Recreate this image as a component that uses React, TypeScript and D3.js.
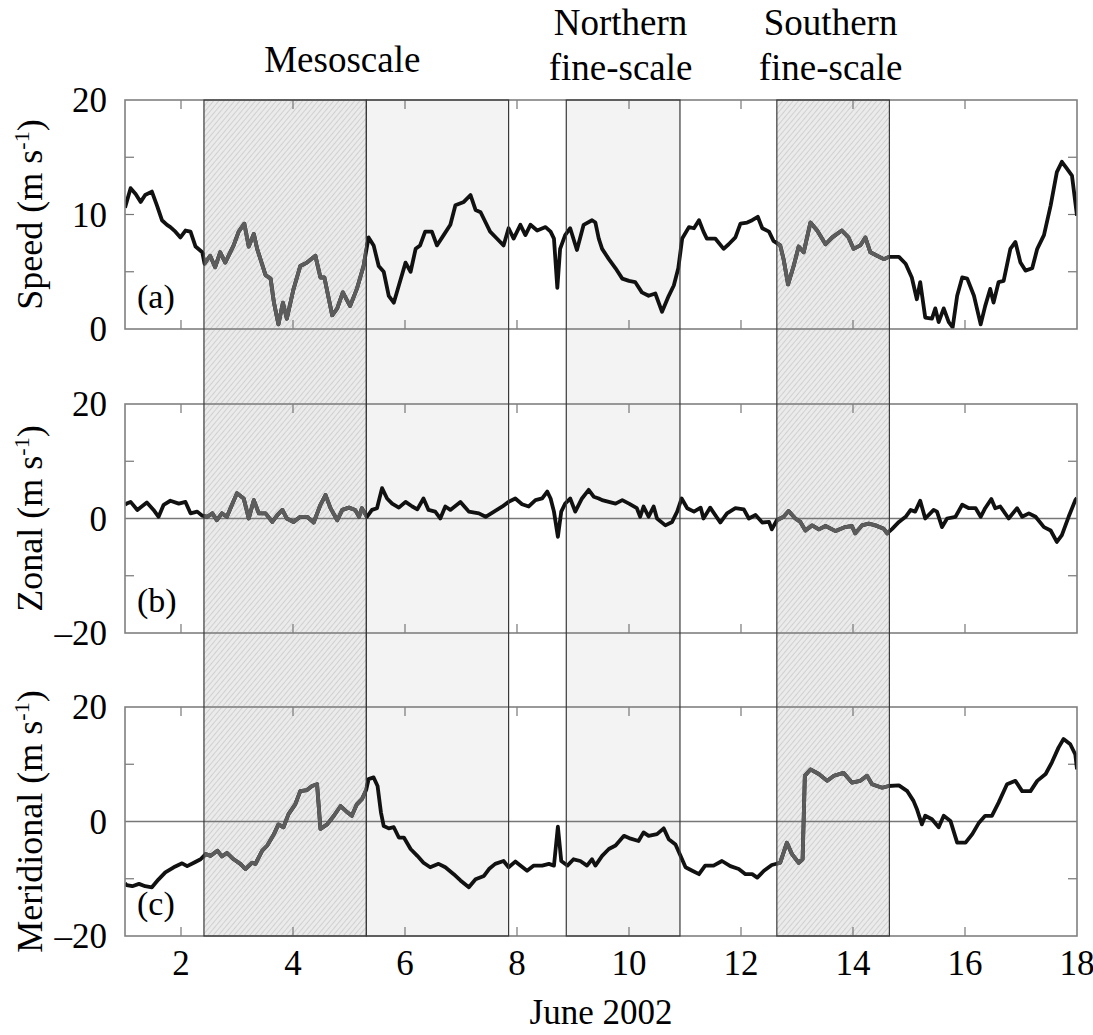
import React, { useEffect, useRef } from "react";
import * as d3 from "d3";

// wind speed and components, June 2002 (day of month, m/s)
const speedSeries: [number, number][] = [
  [1.0, 10.6], [1.03, 11.1], [1.1, 12.3], [1.19, 11.8], [1.28, 11.1], [1.36, 11.7], [1.48, 12.0], [1.57, 10.8],
  [1.66, 9.5], [1.75, 9.1], [1.81, 8.9], [1.9, 8.5], [1.99, 8.0], [2.08, 8.6], [2.17, 8.5], [2.26, 7.2],
  [2.38, 6.7], [2.42, 5.7], [2.52, 6.4], [2.61, 5.4], [2.7, 6.7], [2.79, 5.8], [2.94, 7.3], [3.03, 8.5],
  [3.13, 9.2], [3.21, 7.2], [3.3, 8.3], [3.36, 7.0], [3.51, 4.7], [3.6, 4.4], [3.66, 2.3], [3.74, 0.4],
  [3.82, 2.3], [3.89, 0.9], [4.01, 3.5], [4.13, 5.5], [4.25, 5.8], [4.4, 6.4], [4.49, 4.5], [4.56, 4.5],
  [4.7, 1.2], [4.79, 1.8], [4.89, 3.2], [5.02, 2.0], [5.14, 3.5], [5.26, 5.5], [5.35, 8.0], [5.44, 7.3],
  [5.53, 5.5], [5.62, 5.0], [5.71, 2.9], [5.8, 2.3], [5.89, 3.8], [6.01, 5.8], [6.1, 5.0], [6.19, 7.0],
  [6.27, 7.3], [6.36, 8.5], [6.48, 8.5], [6.57, 7.3], [6.69, 8.2], [6.81, 9.1], [6.9, 10.8], [7.05, 11.1],
  [7.17, 11.7], [7.26, 10.4], [7.35, 10.2], [7.44, 9.3], [7.52, 8.5], [7.64, 7.9], [7.76, 7.3], [7.85, 8.8],
  [7.94, 7.9], [8.06, 9.1], [8.15, 8.2], [8.24, 9.1], [8.36, 8.6], [8.51, 8.9], [8.6, 8.5], [8.66, 7.9],
  [8.72, 3.6], [8.77, 7.0], [8.86, 8.2], [8.95, 8.8], [9.07, 6.9], [9.19, 9.1], [9.34, 9.5], [9.4, 9.3],
  [9.46, 7.9], [9.52, 7.0], [9.64, 6.1], [9.76, 5.3], [9.88, 4.4], [10.0, 4.2], [10.11, 4.1], [10.23, 3.2],
  [10.35, 2.9], [10.47, 3.1], [10.59, 1.5], [10.71, 2.9], [10.8, 3.8], [10.88, 5.3], [10.95, 7.9], [11.07, 8.9],
  [11.16, 8.8], [11.25, 9.5], [11.33, 8.5], [11.39, 7.9], [11.54, 7.9], [11.69, 7.0], [11.78, 7.4], [11.9, 8.0],
  [11.99, 9.2], [12.11, 9.3], [12.2, 9.5], [12.3, 9.8], [12.38, 8.8], [12.5, 8.5], [12.58, 7.7], [12.7, 7.3],
  [12.76, 6.1], [12.84, 3.9], [12.94, 5.5], [13.03, 7.2], [13.12, 6.7], [13.24, 9.3], [13.36, 8.6], [13.51, 7.4],
  [13.63, 8.0], [13.8, 8.6], [13.92, 8.0], [14.01, 7.0], [14.13, 7.3], [14.22, 8.0], [14.31, 6.7], [14.43, 6.4],
  [14.55, 6.1], [14.64, 6.3], [14.82, 6.3], [14.94, 5.7], [15.05, 4.5], [15.14, 2.6], [15.2, 4.1], [15.29, 1.0],
  [15.41, 0.9], [15.47, 1.8], [15.53, 0.6], [15.62, 1.8], [15.71, 0.6], [15.78, 0.15], [15.86, 2.9], [15.95, 4.5],
  [16.04, 4.4], [16.16, 2.9], [16.28, 0.4], [16.36, 2.0], [16.45, 3.5], [16.51, 2.3], [16.6, 4.1], [16.69, 4.2],
  [16.81, 7.0], [16.9, 7.6], [16.99, 5.8], [17.08, 5.1], [17.2, 5.3], [17.29, 7.0], [17.41, 8.2], [17.53, 10.8],
  [17.64, 13.7], [17.73, 14.6], [17.82, 14.0], [17.91, 13.4], [18.0, 9.9],
];

const zonalSeries: [number, number][] = [
  [1.0, 2.4], [1.03, 2.6], [1.1, 2.9], [1.22, 1.5], [1.39, 2.8], [1.51, 1.5], [1.6, 0.3], [1.69, 2.4],
  [1.81, 3.1], [1.96, 2.6], [2.08, 2.9], [2.17, 0.9], [2.29, 1.2], [2.38, 0.5], [2.47, 0.3], [2.56, 0.9],
  [2.64, -0.3], [2.73, 0.9], [2.82, 0.3], [2.91, 2.4], [3.0, 4.4], [3.12, 3.5], [3.21, 0], [3.3, 3.2],
  [3.39, 0.9], [3.51, 0.9], [3.63, -0.6], [3.72, 0.6], [3.81, 1.5], [3.89, 0], [4.01, -0.6], [4.13, 0.3],
  [4.25, 0.3], [4.37, -0.7], [4.49, 2.4], [4.58, 4.1], [4.67, 1.8], [4.79, -0.3], [4.88, 1.5], [5.0, 1.9],
  [5.11, 1.5], [5.18, 0.3], [5.23, 1.8], [5.32, 0.3], [5.41, 1.5], [5.5, 1.8], [5.59, 5.3], [5.68, 3.5],
  [5.77, 2.6], [5.89, 1.9], [6.01, 2.9], [6.13, 2.1], [6.22, 1.6], [6.33, 3.5], [6.42, 1.5], [6.54, 1.2],
  [6.63, 0], [6.72, 2.1], [6.81, 1.5], [6.99, 2.9], [7.14, 1.2], [7.32, 0.9], [7.44, 0.3], [7.59, 1.2],
  [7.74, 2.1], [7.85, 2.9], [7.97, 3.5], [8.09, 2.5], [8.21, 2.1], [8.33, 3.2], [8.45, 3.5], [8.54, 4.7],
  [8.6, 3.5], [8.66, 1.2], [8.73, -3.2], [8.79, 1.2], [8.86, 2.6], [8.95, 3.5], [9.04, 1.2], [9.16, 3.5],
  [9.28, 5.0], [9.37, 3.8], [9.46, 3.5], [9.52, 3.2], [9.64, 2.9], [9.76, 2.6], [9.88, 3.2], [10.0, 2.6],
  [10.14, 1.8], [10.2, 0.3], [10.26, 2.1], [10.35, 0.3], [10.44, 2.1], [10.5, 0], [10.65, -1.2], [10.77, -0.6],
  [10.86, 1.2], [10.94, 3.5], [11.04, 1.8], [11.16, 1.2], [11.28, 1.9], [11.33, 0], [11.45, 1.9], [11.63, -0.7],
  [11.75, 0.9], [11.9, 1.8], [12.05, 1.6], [12.14, 0], [12.26, 0.6], [12.38, -0.7], [12.5, -0.6], [12.55, -1.9],
  [12.64, -0.3], [12.76, 0.3], [12.85, 1.3], [12.97, 0], [13.06, -0.6], [13.15, -2.1], [13.27, -1.2], [13.39, -1.9],
  [13.51, -1.3], [13.69, -2.2], [13.86, -1.5], [13.98, -1.3], [14.04, -2.6], [14.16, -1.2], [14.28, -0.9], [14.4, -1.2],
  [14.55, -1.8], [14.61, -2.6], [14.7, -1.8], [14.82, -0.6], [14.94, 0.3], [15.03, 1.5], [15.11, 1.2], [15.2, 3.1],
  [15.29, 0], [15.44, 1.5], [15.5, 1.2], [15.59, -1.5], [15.68, 0], [15.83, 0.3], [15.95, 2.4], [16.07, 1.8],
  [16.19, 1.8], [16.28, 0.3], [16.36, 1.8], [16.47, 3.4], [16.54, 1.8], [16.63, 2.1], [16.78, 0], [16.93, 1.8],
  [17.02, 0.3], [17.14, 0.9], [17.26, 0.3], [17.41, -1.5], [17.53, -2.1], [17.64, -4.1], [17.73, -2.9], [17.85, 0.3],
  [17.97, 3.2], [18.0, 3.6],
];

const meridionalSeries: [number, number][] = [
  [1.0, -10.8], [1.03, -11.1], [1.13, -11.3], [1.25, -10.9], [1.36, -11.3], [1.48, -11.5], [1.6, -10.1], [1.72, -8.9],
  [1.87, -8.0], [2.02, -7.3], [2.11, -7.8], [2.23, -7.2], [2.35, -6.6], [2.44, -5.7], [2.53, -6.0], [2.65, -5.1],
  [2.73, -6.1], [2.82, -5.5], [2.94, -6.6], [3.06, -7.4], [3.15, -8.3], [3.27, -7.2], [3.33, -7.4], [3.45, -5.1],
  [3.54, -4.2], [3.66, -2.2], [3.74, -0.5], [3.83, -1.0], [3.92, 1.3], [4.04, 3.0], [4.13, 5.3], [4.25, 5.5],
  [4.34, 6.2], [4.43, 6.5], [4.49, -1.3], [4.61, -0.5], [4.73, 1.0], [4.85, 2.7], [4.97, 1.6], [5.05, 1.0],
  [5.14, 3.0], [5.23, 3.9], [5.31, 5.6], [5.35, 7.4], [5.44, 7.7], [5.51, 6.2], [5.57, 1.6], [5.62, -0.8],
  [5.71, -1.2], [5.8, -1.0], [5.89, -2.8], [5.98, -2.8], [6.1, -4.8], [6.22, -6.0], [6.33, -7.2], [6.45, -8.0],
  [6.6, -7.4], [6.72, -8.0], [6.87, -9.2], [6.99, -10.3], [7.14, -11.5], [7.26, -10.1], [7.41, -9.5], [7.5, -8.3],
  [7.61, -7.4], [7.76, -6.9], [7.85, -8.0], [7.97, -7.0], [8.06, -7.7], [8.18, -8.6], [8.3, -7.7], [8.45, -7.7],
  [8.57, -7.4], [8.66, -7.7], [8.73, -0.9], [8.79, -6.9], [8.9, -7.7], [9.01, -6.6], [9.13, -6.9], [9.25, -7.7],
  [9.34, -6.6], [9.4, -7.7], [9.52, -6.0], [9.64, -4.8], [9.76, -4.2], [9.91, -2.5], [10.03, -3.0], [10.17, -3.4],
  [10.26, -1.9], [10.35, -2.5], [10.5, -2.2], [10.62, -1.2], [10.71, -3.1], [10.83, -4.0], [10.92, -6.0], [11.01, -8.0],
  [11.13, -8.6], [11.25, -9.2], [11.36, -7.7], [11.51, -7.7], [11.66, -6.9], [11.81, -7.8], [11.96, -8.3], [12.08, -9.2],
  [12.2, -9.2], [12.29, -9.8], [12.41, -8.6], [12.55, -7.6], [12.7, -7.2], [12.82, -3.7], [12.91, -5.7], [13.03, -7.2],
  [13.1, -6.6], [13.14, 8.0], [13.24, 9.1], [13.39, 8.3], [13.54, 7.1], [13.66, 8.0], [13.83, 8.5], [13.98, 6.8],
  [14.13, 7.1], [14.25, 8.0], [14.34, 6.5], [14.52, 5.9], [14.64, 6.2], [14.82, 6.3], [14.97, 5.3], [15.08, 3.6],
  [15.14, 2.2], [15.23, -0.5], [15.29, 1.0], [15.41, 0.4], [15.53, -1.0], [15.62, 1.0], [15.74, 0.1], [15.86, -3.7],
  [16.01, -3.7], [16.13, -2.2], [16.25, -0.2], [16.36, 1.0], [16.48, 1.0], [16.6, 3.3], [16.75, 6.5], [16.9, 7.1],
  [17.02, 5.3], [17.17, 5.3], [17.29, 7.1], [17.44, 8.3], [17.55, 10.3], [17.67, 12.9], [17.76, 14.4], [17.88, 13.5],
  [17.97, 11.7], [18.0, 9.1],
];

// sampling periods (days)
const regionStart = [2.41, 5.31, 8.88, 12.64];
const regionEnd = [5.31, 7.85, 10.91, 14.65];
const regionHatched = [true, false, false, true];
const regionTitles = [["Mesoscale"], ["Northern", "fine-scale"], ["Southern", "fine-scale"]];
const regionTitleDay = [4.88, 9.85, 13.6];

const panelNames = ["Speed", "Zonal", "Meridional"];
const panelLetters = ["(a)", "(b)", "(c)"];
const panelDomains: [number, number][] = [[0, 20], [-20, 20], [-20, 20]];
const panelTickLabels = [[0, 10, 20], [-20, 0, 20], [-20, 0, 20]];
const panelMinorTicks = [[5, 10, 15], [-10, 10], [-10, 10]];
const xTickLabels = [2, 4, 6, 8, 10, 12, 14, 16, 18];
const xAxisTitle = "June 2002";

const seriesList = [speedSeries, zonalSeries, meridionalSeries];

const W = 1093;
const H = 1035;
const left = 125;
const right = 1077;
const panelTops = [100, 404, 707];
const panelH = 229;
const serif = "Liberation Serif";

const App = () => {
  const ref = useRef<SVGSVGElement>(null);

  useEffect(() => {
    const svg = d3.select(ref.current);
    svg.selectAll("*").remove();

    const x = d3.scaleLinear().domain([1, 18]).range([left, right]);
    const top = panelTops[0];
    const bottom = panelTops[2] + panelH;

    const defs = svg.append("defs");
    const pat = defs
      .append("pattern")
      .attr("id", "hatch")
      .attr("patternUnits", "userSpaceOnUse")
      .attr("width", 4)
      .attr("height", 4)
      .attr("patternTransform", "rotate(40)");
    pat.append("rect").attr("width", 4).attr("height", 4).attr("fill", "#ebebeb");
    pat.append("line").attr("x1", 0).attr("y1", 0).attr("x2", 0).attr("y2", 4)
      .attr("stroke", "#c9c9c9").attr("stroke-width", 1.6);

    const hatchClip = defs.append("clipPath").attr("id", "hatchClip");
    regionStart.forEach((s, i) => {
      if (!regionHatched[i]) return;
      hatchClip.append("rect").attr("x", x(s)).attr("y", 0)
        .attr("width", x(regionEnd[i]) - x(s)).attr("height", H);
    });

    // shaded periods
    svg.append("g")
      .selectAll("rect")
      .data(regionStart)
      .join("rect")
      .attr("x", (d) => x(d))
      .attr("y", top)
      .attr("width", (d, i) => x(regionEnd[i]) - x(d))
      .attr("height", bottom - top)
      .attr("fill", (d, i) => (regionHatched[i] ? "url(#hatch)" : "#f3f3f3"));

    seriesList.forEach((series, p) => {
      const y0 = panelTops[p];
      const y = d3.scaleLinear().domain(panelDomains[p]).range([y0 + panelH, y0]);
      const g = svg.append("g");

      defs.append("clipPath").attr("id", "panel" + p)
        .append("rect").attr("x", left).attr("y", y0).attr("width", right - left).attr("height", panelH);

      // ticks
      const xt = xTickLabels.filter((d) => d < 18);
      g.append("g").selectAll("line").data(xt).join("line")
        .attr("x1", (d) => x(d)).attr("x2", (d) => x(d))
        .attr("y1", y0).attr("y2", y0 + 9)
        .attr("stroke", "#777").attr("stroke-width", 1.2);
      g.append("g").selectAll("line").data(xt).join("line")
        .attr("x1", (d) => x(d)).attr("x2", (d) => x(d))
        .attr("y1", y0 + panelH).attr("y2", y0 + panelH - 9)
        .attr("stroke", "#777").attr("stroke-width", 1.2);
      [left, right].forEach((edge) => {
        const dir = edge === left ? 1 : -1;
        g.append("g").selectAll("line").data(panelMinorTicks[p]).join("line")
          .attr("x1", edge).attr("x2", edge + dir * 9)
          .attr("y1", (d) => y(d)).attr("y2", (d) => y(d))
          .attr("stroke", "#777").attr("stroke-width", 1.2);
      });

      if (panelDomains[p][0] < 0) {
        g.append("line").attr("x1", left).attr("x2", right)
          .attr("y1", y(0)).attr("y2", y(0))
          .attr("stroke", "#777").attr("stroke-width", 1.3);
      }

      const line = d3.line<[number, number]>()
        .x((d) => x(d[0]))
        .y((d) => y(d[1]));

      const lg = g.append("g").attr("clip-path", `url(#panel${p})`);
      lg.append("path").attr("d", line(series))
        .attr("fill", "none").attr("stroke", "#111").attr("stroke-width", 3.8)
        .attr("stroke-linejoin", "round");
      lg.append("g").attr("clip-path", "url(#hatchClip)")
        .append("path").attr("d", line(series))
        .attr("fill", "none").attr("stroke", "#5c5c5c").attr("stroke-width", 3.8)
        .attr("stroke-linejoin", "round");

      // frame
      g.append("rect").attr("x", left).attr("y", y0)
        .attr("width", right - left).attr("height", panelH)
        .attr("fill", "none").attr("stroke", "#808080").attr("stroke-width", 1.6);

      // y tick labels
      g.append("g").selectAll("text").data(panelTickLabels[p]).join("text")
        .attr("x", 107).attr("y", (d) => y(d) + 12)
        .attr("text-anchor", "end")
        .style("font-family", serif).attr("font-size", 35)
        .text((d) => (d < 0 ? "\u2013" + Math.abs(d) : String(d)));

      // panel letter
      g.append("text").attr("x", 137).attr("y", y0 + panelH - 21)
        .style("font-family", serif).attr("font-size", 34)
        .text(panelLetters[p]);

      // y title
      const t = g.append("text")
        .attr("transform", `translate(42,${y0 + panelH / 2}) rotate(-90)`)
        .attr("text-anchor", "middle")
        .style("font-family", serif).attr("font-size", 36);
      t.append("tspan").text(panelNames[p] + " (m s");
      t.append("tspan").attr("font-size", 22).attr("dy", -13).text("-1");
      t.append("tspan").attr("dy", 13).text(")");
    });

    // period borders
    svg.append("g")
      .selectAll("rect")
      .data(regionStart)
      .join("rect")
      .attr("x", (d) => x(d))
      .attr("y", top)
      .attr("width", (d, i) => x(regionEnd[i]) - x(d))
      .attr("height", bottom - top)
      .attr("fill", "none")
      .attr("stroke", "#3a3a3a")
      .attr("stroke-width", 1.2);

    // x tick labels
    svg.append("g").selectAll("text").data(xTickLabels).join("text")
      .attr("x", (d) => x(d)).attr("y", 975)
      .attr("text-anchor", "middle")
      .style("font-family", serif).attr("font-size", 35)
      .text((d) => d);

    svg.append("text").attr("x", (left + right) / 2).attr("y", 1024)
      .attr("text-anchor", "middle")
      .style("font-family", serif).attr("font-size", 35)
      .text(xAxisTitle);

    // period titles
    regionTitles.forEach((lines, i) => {
      const baselines = lines.length === 1 ? [72] : [35, 80];
      lines.forEach((s, j) => {
        svg.append("text").attr("x", x(regionTitleDay[i])).attr("y", baselines[j])
          .attr("text-anchor", "middle")
          .style("font-family", serif).attr("font-size", 37)
          .text(s);
      });
    });
  }, []);

  return (
    <div style={{ position: "absolute", left: 0, top: 0 }}>
      <svg ref={ref} width={W} height={H} style={{ display: "block", background: "#fff" }} />
    </div>
  );
};

export default App;
